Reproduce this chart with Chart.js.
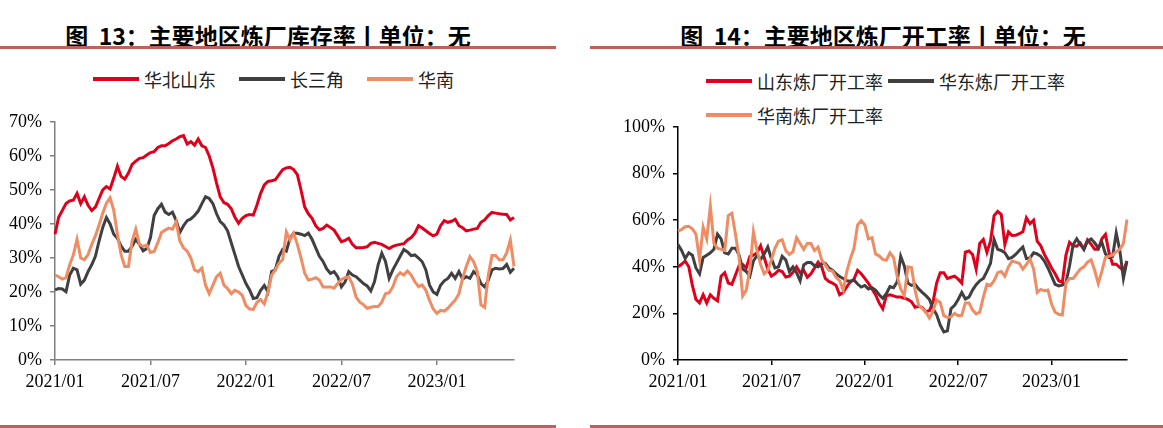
<!DOCTYPE html>
<html>
<head>
<meta charset="utf-8">
<script src="https://cdn.jsdelivr.net/npm/chart.js@4.4.0/dist/chart.umd.min.js"></script>
<style>
  body { margin: 0; width: 1163px; height: 428px; background: #fff; position: relative; overflow: hidden; }
  .title { position: absolute; top: 18px; font: bold 23px "Noto Sans CJK SC", sans-serif; color: #000; white-space: pre; transform: translateX(-50%); }
  .rule { position: absolute; height: 3px; background: #c0605c; }
  .legend { position: absolute; font: 18px "Noto Sans CJK SC", sans-serif; color: #222; white-space: nowrap; display: flex; align-items: center; }
  .legend i { display: inline-block; width: 46px; height: 4px; margin-right: 5px; }
  .legend span { margin-right: 23px; }
  canvas { position: absolute; }
</style>
</head>
<body>
<div class="title" style="left:268px">图  13：主要地区炼厂库存率丨单位：无</div>
<div class="title" style="left:883px">图  14：主要地区炼厂开工率丨单位：无</div>
<div class="rule" style="left:0;top:46px;width:556px"></div>
<div class="rule" style="left:590px;top:46px;width:573px"></div>
<div class="rule" style="left:0;top:425px;width:556px"></div>
<div class="rule" style="left:590px;top:425px;width:573px"></div>

<div class="legend" style="left:93px;top:66px">
  <i style="background:#e0001b"></i><span>华北山东</span>
  <i style="background:#404040"></i><span>长三角</span>
  <i style="background:#f08c64"></i><span>华南</span>
</div>
<div class="legend" style="left:706px;top:68px">
  <i style="background:#e0001b"></i><span style="margin-right:5px">山东炼厂开工率</span>
  <i style="background:#404040"></i><span>华东炼厂开工率</span>
</div>
<div class="legend" style="left:706px;top:102px">
  <i style="background:#f08c64"></i><span>华南炼厂开工率</span>
</div>

<canvas id="stock" style="left:0;top:100px" width="520" height="300"></canvas>
<canvas id="runs" style="left:590px;top:100px" width="543" height="300"></canvas>

<script>
// weekly dates, 126 weeks from 2021-01-03
const weeks = [];
for (let d = new Date(Date.UTC(2021, 0, 3)); weeks.length < 126; d.setUTCDate(d.getUTCDate() + 7)) {
    weeks.push(d.toISOString().slice(0, 10));
}
const tickLabels = ['2021/01', '2021/07', '2022/01', '2022/07', '2023/01'];

// 图13 炼厂库存率 (%)
const stockNorth = [37, 42, 44, 46, 46.8, 47, 49, 46, 48, 45.5, 44, 45, 47.5, 50, 51, 50.3, 53.5, 57, 54, 53.2,
    55, 57.5, 58.5, 59.3, 59.5, 60.3, 61, 61.3, 62.5, 63, 63, 63.7, 64.5, 65, 65.7, 66, 63.5, 64.2, 63.2, 65,
    63, 62.5, 60, 56.5, 52, 48, 46.3, 45.8, 44.5, 42, 40.2, 41.7, 42.5, 42.8, 42.6, 45.6, 49, 51.5, 52.5, 52.7,
    53, 54.5, 56, 56.5, 56.7, 56, 54.5, 50, 45, 43, 41.7, 39.5, 38.3, 38.7, 39.7, 39, 38.2, 36.5, 34.8, 35.2,
    35.8, 34, 33, 33, 33.1, 33.3, 34.3, 34.6, 34.3, 34, 33.4, 32.8, 33.4, 33.8, 34, 34.2, 35.3, 36, 37.3, 39.5,
    38.8, 38, 37.2, 36.5, 37, 39.5, 41, 40.5, 40.8, 41.4, 39.5, 38.9, 38, 38.2, 38.5, 38.7, 40.5, 41.2, 42.5, 43.4,
    43.2, 43, 42.9, 42.8, 41.2, 41.9];
const stockYangtze = [20.6, 21, 20.9, 20.1, 25, 27, 26.5, 22.3, 23.5, 26, 28, 30.5, 35, 39, 41.9, 40, 37, 35.8, 33.5, 32,
    32, 33.5, 35.5, 34, 32.1, 32.8, 36, 42.5, 44.5, 45.8, 43.5, 42.8, 43.5, 41, 37.5, 39.5, 41, 41.5, 42.5, 43.8,
    46, 48, 47.5, 46, 43, 40.7, 39.7, 38, 34.5, 31, 27.5, 25, 22.5, 20.6, 18.1, 18.3, 20.5, 21.9, 20, 26,
    26.5, 30.5, 32.5, 32, 35.8, 37.3, 37.3, 37, 36.6, 37.3, 35.5, 33, 30.5, 29, 26.8, 25.5, 26, 24.5, 21.5, 23,
    26, 25, 24.5, 23.5, 22.5, 21.8, 20.3, 23, 28, 31.4, 29, 24, 26.5, 28.5, 30.5, 32.5, 31.8, 30.7, 30.9, 30,
    28.9, 26.5, 22, 20, 19.3, 22, 23.3, 24, 25.5, 24, 26, 23.8, 24.5, 24, 26, 25, 22.5, 21.5, 23.5, 26.5,
    27, 26.8, 26.9, 28.1, 25.8, 27];
const stockSouth = [25, 24.5, 23.8, 24.2, 28, 30.9, 35.5, 30, 29.5, 31, 34, 36.5, 39.7, 43.2, 46.1, 47.7, 44, 37, 31, 27.5,
    27.5, 35, 38.5, 34, 33.4, 33.8, 31.6, 31.9, 34.5, 37.5, 38.2, 38.8, 38.5, 40.7, 35, 33, 32, 30, 26.5, 26,
    27, 22, 19.5, 22, 24.5, 25.5, 22, 21, 19.5, 20.5, 20, 19, 16, 15, 14.9, 17, 17.8, 16.5, 20, 25,
    26.5, 28.5, 29.5, 37.7, 35.3, 37.3, 34, 30, 25.5, 23.5, 23.8, 24.2, 23.5, 21.5, 21.5, 21.5, 21.1, 22.5, 23.7, 24.2,
    24.5, 22.3, 18.5, 17, 16.3, 15.2, 15.5, 15.7, 15.7, 17, 19.5, 19.8, 21.5, 24.5, 25.7, 25, 26.2, 25, 23, 21.6,
    22.1, 20.5, 17.5, 15, 13.7, 14.6, 14.4, 15.2, 16.5, 17.6, 19.5, 24, 27.5, 30.4, 28.9, 26, 16.2, 15.5, 25, 30.7,
    30.7, 29.5, 29.5, 31.5, 35.3, 27.5];

// 图14 炼厂开工率 (%)
const runShandong = [40, 41.1, 42.5, 40, 32, 26, 24.5, 28, 24.5, 28, 26.5, 25.4, 36, 37.5, 33, 32.5, 36.5, 40.5, 41, 39.5,
    44.5, 45, 46, 49, 44, 39, 36, 37, 38.5, 38, 35.6, 36, 37.6, 40, 37.5, 38.5, 35.5, 37, 39.5, 42,
    40, 35, 33.7, 33, 32, 28, 29, 31.5, 33.5, 34.7, 38.5, 37, 35, 33, 30.5, 28, 24.5, 22, 27.5, 28,
    27.5, 27, 27, 26.5, 26, 25, 22.6, 23, 22.5, 20.7, 21.2, 25, 33, 37.5, 37.5, 35, 35.5, 36, 34.7, 33,
    46.3, 46.8, 45.3, 39, 50, 51.7, 46.2, 51, 62, 63.8, 62.4, 49.6, 55, 53.4, 53.5, 54.2, 55, 61, 58.5, 60,
    51, 49, 45.3, 42.5, 39.5, 37, 34, 33.3, 45, 50.5, 49, 48.8, 50.2, 47.5, 51.5, 49.7, 47.5, 47.5, 52, 53.9,
    46, 41.1, 41.1, 39.7, 38.3, 42.5];
const runEast = [49.6, 47, 43.5, 46, 45, 39.5, 37, 44, 45, 46, 47.5, 54, 52, 46, 45.5, 48, 48, 45, 39, 38,
    36, 42.5, 44.9, 43.2, 45.5, 48.5, 43.5, 39.5, 40, 44.5, 43, 38, 40, 37.5, 34, 40.8, 41.8, 41.8, 40.5, 40,
    41.3, 41.5, 39.5, 38.5, 37, 35.8, 35, 34, 33.8, 34.3, 32.6, 31.3, 32, 30.5, 31, 30, 28, 26.5, 28.5, 31.5,
    31, 33.5, 44.5, 40.4, 33, 32, 32.5, 30.5, 29, 27.6, 26, 22, 19.5, 15, 12, 12.5, 22, 23.5, 26, 29,
    26.2, 27, 30, 32.3, 34, 35, 38, 41.5, 51.7, 47.5, 47, 46, 43.5, 44, 45.3, 47, 48.5, 43.5, 43.8, 46,
    45.5, 44.5, 42.5, 39.5, 36, 32.5, 31.8, 32.1, 33.2, 40.4, 49.5, 52, 49.6, 47.5, 51, 52, 50.3, 48, 50.5, 45.5,
    44, 44.5, 54.5, 47, 35, 42.5];
const runSouth = [55.3, 56, 57.2, 57.4, 56.3, 54, 43, 57, 52, 66, 50, 48, 47.5, 47, 62, 63, 54, 44, 27.5, 30,
    39, 55, 47, 41, 37, 38.5, 43, 48, 51, 51.6, 47, 45.3, 46.5, 52.5, 50, 47.5, 50, 50, 47, 48.5,
    43, 40.8, 38.5, 38.2, 35.5, 34, 30, 38, 43.5, 48, 58, 59.8, 58, 52, 52.5, 45.5, 44.7, 43.2, 42.8, 46,
    44, 36, 30.5, 27.6, 40, 39.7, 30, 23.5, 22.2, 20.5, 18, 21, 25.8, 24.7, 19, 18.3, 18.5, 20, 19, 19.2,
    24.5, 24.5, 21.5, 19.8, 20.5, 27, 32.5, 32, 34, 37.5, 38, 36, 40, 42.5, 42, 41.5, 39, 41, 43.5, 39,
    29, 30.3, 29.7, 30, 24, 20.5, 19.6, 19.3, 33, 35, 35, 37, 39, 40, 42, 43, 38.5, 32.8, 38, 44,
    44.6, 45, 46.5, 47.5, 50, 60.3];

Chart.defaults.font.family = '"Liberation Serif", "Times New Roman", serif';
Chart.defaults.font.size = 18;
Chart.defaults.color = '#000';
Chart.defaults.animation = false;

function isTick(ctx) {
    const lab = weeks[ctx.index];
    if (!lab) return false;
    return +lab.slice(8) <= 7 && tickLabels.includes(lab.slice(0, 4) + '/' + lab.slice(5, 7));
}

function makeChart(id, series, yMax, yStep, axisColor, yWidth, padTop) {
    new Chart(document.getElementById(id), {
        type: 'line',
        data: {
            labels: weeks,
            datasets: series.map((s, i) => ({
                label: s.name,
                data: s.data,
                borderColor: s.color,
                borderWidth: 3,
                pointRadius: 0,
                tension: 0,
                order: i === 2 ? 0 : (i === 1 ? 1 : 2)
            }))
        },
        options: {
            responsive: false,
            layout: { padding: { top: padTop, right: 2, left: 0, bottom: 0 } },
            plugins: { legend: { display: false }, tooltip: { enabled: false } },
            scales: {
                x: {
                    grid: {
                        drawOnChartArea: false,
                        tickLength: 5,
                        lineWidth: 1.5,
                        color: ctx => isTick(ctx) ? axisColor : 'rgba(0,0,0,0)',
                        tickColor: ctx => isTick(ctx) ? axisColor : 'rgba(0,0,0,0)'
                    },
                    border: { display: true, color: axisColor, width: 1.5 },
                    ticks: {
                        autoSkip: false,
                        maxRotation: 0,
                        padding: 6,
                        callback: function (value, index) {
                            const lab = weeks[index];
                            const key = lab.slice(0, 4) + '/' + lab.slice(5, 7);
                            return (+lab.slice(8) <= 7 && tickLabels.includes(key)) ? key : '';
                        }
                    },
                    afterFit: s => { s.height = 40; }
                },
                y: {
                    min: 0,
                    max: yMax,
                    ticks: { stepSize: yStep, padding: 8, callback: v => v + '%' },
                    grid: { drawOnChartArea: false, tickLength: 5, color: axisColor, lineWidth: 1.5 },
                    border: { display: true, color: axisColor, width: 1.5 },
                    afterFit: s => { s.width = yWidth; }
                }
            }
        }
    });
}

makeChart('stock', [
    { name: '华北山东', data: stockNorth, color: '#e0001b' },
    { name: '长三角', data: stockYangtze, color: '#404040' },
    { name: '华南', data: stockSouth, color: '#f08c64' }
], 70, 10, '#808080', 55, 22);

makeChart('runs', [
    { name: '山东炼厂开工率', data: runShandong, color: '#e0001b' },
    { name: '华东炼厂开工率', data: runEast, color: '#404040' },
    { name: '华南炼厂开工率', data: runSouth, color: '#f08c64' }
], 100, 20, '#000', 88, 27);
</script>
</body>
</html>
